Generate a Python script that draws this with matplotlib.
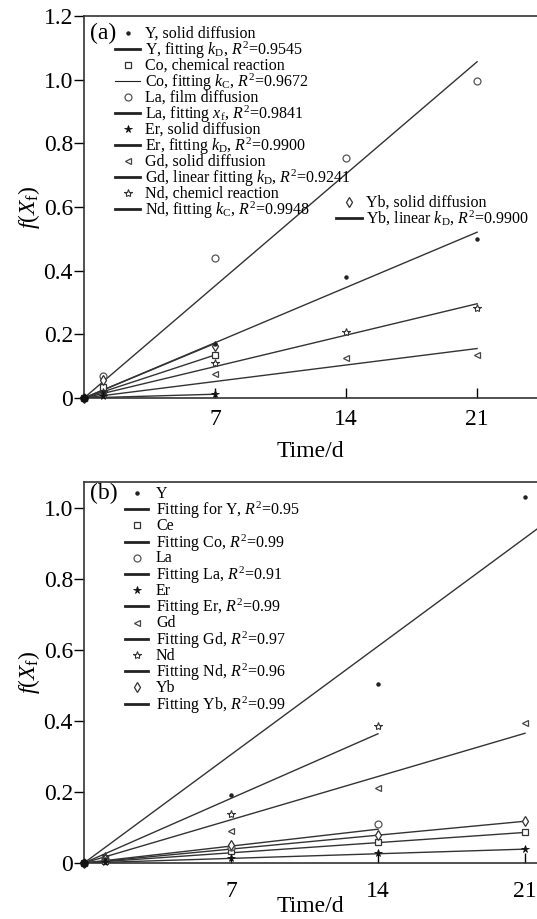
import numpy as np
import matplotlib.pyplot as plt
from matplotlib.lines import Line2D
from matplotlib.ticker import FuncFormatter

plt.rcParams['font.family'] = 'Liberation Serif'
plt.rcParams['mathtext.fontset'] = 'custom'
plt.rcParams['mathtext.rm'] = 'Liberation Serif'
plt.rcParams['mathtext.it'] = 'Liberation Serif:italic'

# sampling days
days = [0, 1, 7, 14, 21]
days_7 = [0, 1, 7]
days_14 = [0, 1, 7, 14]

# (a) measured f(Xf)
a_y = [0, 0.02, 0.17, 0.38, 0.50]
a_co = [0, 0.034, 0.135]
a_la = [0, 0.069, 0.44, 0.755, 0.995]
a_er = [0, 0.005, 0.012]
a_gd = [0, 0.01, 0.075, 0.125, 0.135]
a_nd = [0, 0.02, 0.109, 0.206, 0.284]
a_yb = [0, 0.056, 0.162]

# (a) fitted rate constants (per day) and last day of each fit
a_k = [0.0248, 0.0193, 0.0503, 0.0017, 0.0074, 0.0141, 0.0245]
a_kend = [21, 7, 21, 7, 21, 21, 7]

# (b) measured f(Xf)
b_y = [0, 0.01, 0.192, 0.504, 1.03]
b_ce = [0, 0.005, 0.035, 0.058, 0.087]
b_la = [0, 0.01, 0.045, 0.11]
b_er = [0, 0.003, 0.015, 0.027, 0.04]
b_gd = [0, 0.015, 0.09, 0.21, 0.394]
b_nd = [0, 0.02, 0.138, 0.386]
b_yb = [0, 0.01, 0.05, 0.078, 0.117]

b_k = [0.0436, 0.0041, 0.0068, 0.00186, 0.0174, 0.026, 0.0056]
b_kend = [22, 21, 14, 21, 21, 14, 21]

a_labels = ['Y, solid diffusion', r'Y, fitting $k_\mathrm{D}$, $R^2$=0.9545',
            'Co, chemical reaction', r'Co, fitting $k_\mathrm{C}$, $R^2$=0.9672',
            'La, film diffusion', r'La, fitting $x_\mathrm{f}$, $R^2$=0.9841',
            'Er, solid diffusion', r'Er, fitting $k_\mathrm{D}$, $R^2$=0.9900',
            'Gd, solid diffusion', r'Gd, linear fitting $k_\mathrm{D}$, $R^2$=0.9241',
            'Nd, chemicl reaction', r'Nd, fitting $k_\mathrm{C}$, $R^2$=0.9948',
            'Yb, solid diffusion', r'Yb, linear $k_\mathrm{D}$, $R^2$=0.9900']

b_labels = ['Y', r'Fitting for Y, $R^2$=0.95',
            'Ce', r'Fitting Co, $R^2$=0.99',
            'La', r'Fitting La, $R^2$=0.91',
            'Er', r'Fitting Er, $R^2$=0.99',
            'Gd', r'Fitting Gd, $R^2$=0.97',
            'Nd', r'Fitting Nd, $R^2$=0.96',
            'Yb', r'Fitting Yb, $R^2$=0.99']

# marker style per element: Y, Co/Ce, La, Er, Gd, Nd, Yb
styles = [dict(marker='o', ms=2.2, mfc='#222', mec='#222'),
          dict(marker='s', ms=4, mfc='white', mec='#333', mew=0.9),
          dict(marker='o', ms=5, mfc='white', mec='#555', mew=0.9),
          dict(marker='*', ms=5.5, mfc='#111', mec='#111', mew=0.6),
          dict(marker='<', ms=5, mfc='white', mec='#444', mew=0.9),
          dict(marker='*', ms=6, mfc='white', mec='#333', mew=0.8),
          dict(marker='d', ms=5, mfc='white', mec='#333', mew=0.9)]
# filled markers sit on top so the origin shows as a black dot
z_order = [6, 4, 4, 7, 4, 4, 4]

W, H = 537, 919
fig = plt.figure(figsize=(W / 100, H / 100), dpi=100)
ax_a = fig.add_axes([84/W, 521/H, 453/W, 382/H])
ax_b = fig.add_axes([84/W, 56/H, 453/W, 381/H])


def draw(ax, xs, ys, ks, kends):
    for x, y, st, z in zip(xs, ys, styles, z_order):
        ax.plot(x, y, ls='none', clip_on=False, zorder=z, **st)
    for k, t_end in zip(ks, kends):
        t = np.array([0, t_end])
        ax.plot(t, k * t, color='#333', lw=1, zorder=3)
    # dot marking the common origin
    ax.plot([0], [0], 'o', ms=5, color='#111', clip_on=False, zorder=8)


def style_axes(ax, ymax, yticks, xmax, xpad, xlabelpad):
    ax.set_xlim(0, xmax)
    ax.set_ylim(0, ymax)
    ax.set_xticks([7, 14, 21])
    ax.set_yticks(yticks)
    ax.yaxis.set_major_formatter(FuncFormatter(lambda v, p: '0' if v == 0 else '%.1f' % v))
    ax.tick_params(axis='x', direction='in', length=7, width=1, labelsize=17, pad=xpad)
    ax.tick_params(axis='y', direction='out', length=7, width=1, labelsize=17, pad=1)
    ax.spines['right'].set_visible(False)
    for s in ['left', 'bottom', 'top']:
        ax.spines[s].set_linewidth(1.2)
        ax.spines[s].set_color('#333')
    ax.set_xlabel('Time/d', fontsize=17, labelpad=xlabelpad)
    ax.set_ylabel(r'$f(X_\mathrm{f})$', fontsize=17, labelpad=1)


def key(labels, first, x0, x1, xt, y0, dy, thin=()):
    # hand-built legend in figure pixels: marker row, then fit-line row
    to_fig = lambda x, y: (x / W, 1 - y / H)
    for i, lab in enumerate(labels):
        y = y0 + i * dy
        n = first + i // 2
        if i % 2 == 0:
            xm, ym = to_fig((x0 + x1) / 2, y)
            fig.add_artist(Line2D([xm], [ym], ls='none', transform=fig.transFigure,
                                  **styles[n]))
        else:
            xa, ya = to_fig(x0, y)
            xb, _ = to_fig(x1, y)
            fig.add_artist(Line2D([xa, xb], [ya, ya], color='#222',
                                  lw=0.8 if n in thin else 2, transform=fig.transFigure))
        shift = 6 if '$' in lab else 4.5
        xt_f, yt_f = to_fig(xt, y + shift)
        fig.text(xt_f, yt_f, lab, fontsize=11.5, va='baseline', ha='left')


# (a)
draw(ax_a, [days, days_7, days, days_7, days, days, days_7],
     [a_y, a_co, a_la, a_er, a_gd, a_nd, a_yb], a_k, a_kend)
style_axes(ax_a, 1.2, [0, 0.2, 0.4, 0.6, 0.8, 1.0, 1.2], 24.2, 8, 8)
key(a_labels[:12], 0, 115, 140, 145, 33, 16, thin=(1,))
key(a_labels[12:], 6, 336, 362, 366, 202, 16)
ax_a.text(0.013, 0.955, '(a)', transform=ax_a.transAxes, fontsize=17, va='center')

# (b)
draw(ax_b, [days, days, days_14, days, days, days_14, days],
     [b_y, b_ce, b_la, b_er, b_gd, b_nd, b_yb], b_k, b_kend)
style_axes(ax_b, 1.073, [0, 0.2, 0.4, 0.6, 0.8, 1.0], 21.57, 13, -4)
key(b_labels, 0, 125, 148, 156, 493, 16.2)
ax_b.text(0.013, 0.971, '(b)', transform=ax_b.transAxes, fontsize=17, va='center')

fig.savefig('out.png', dpi=100)
